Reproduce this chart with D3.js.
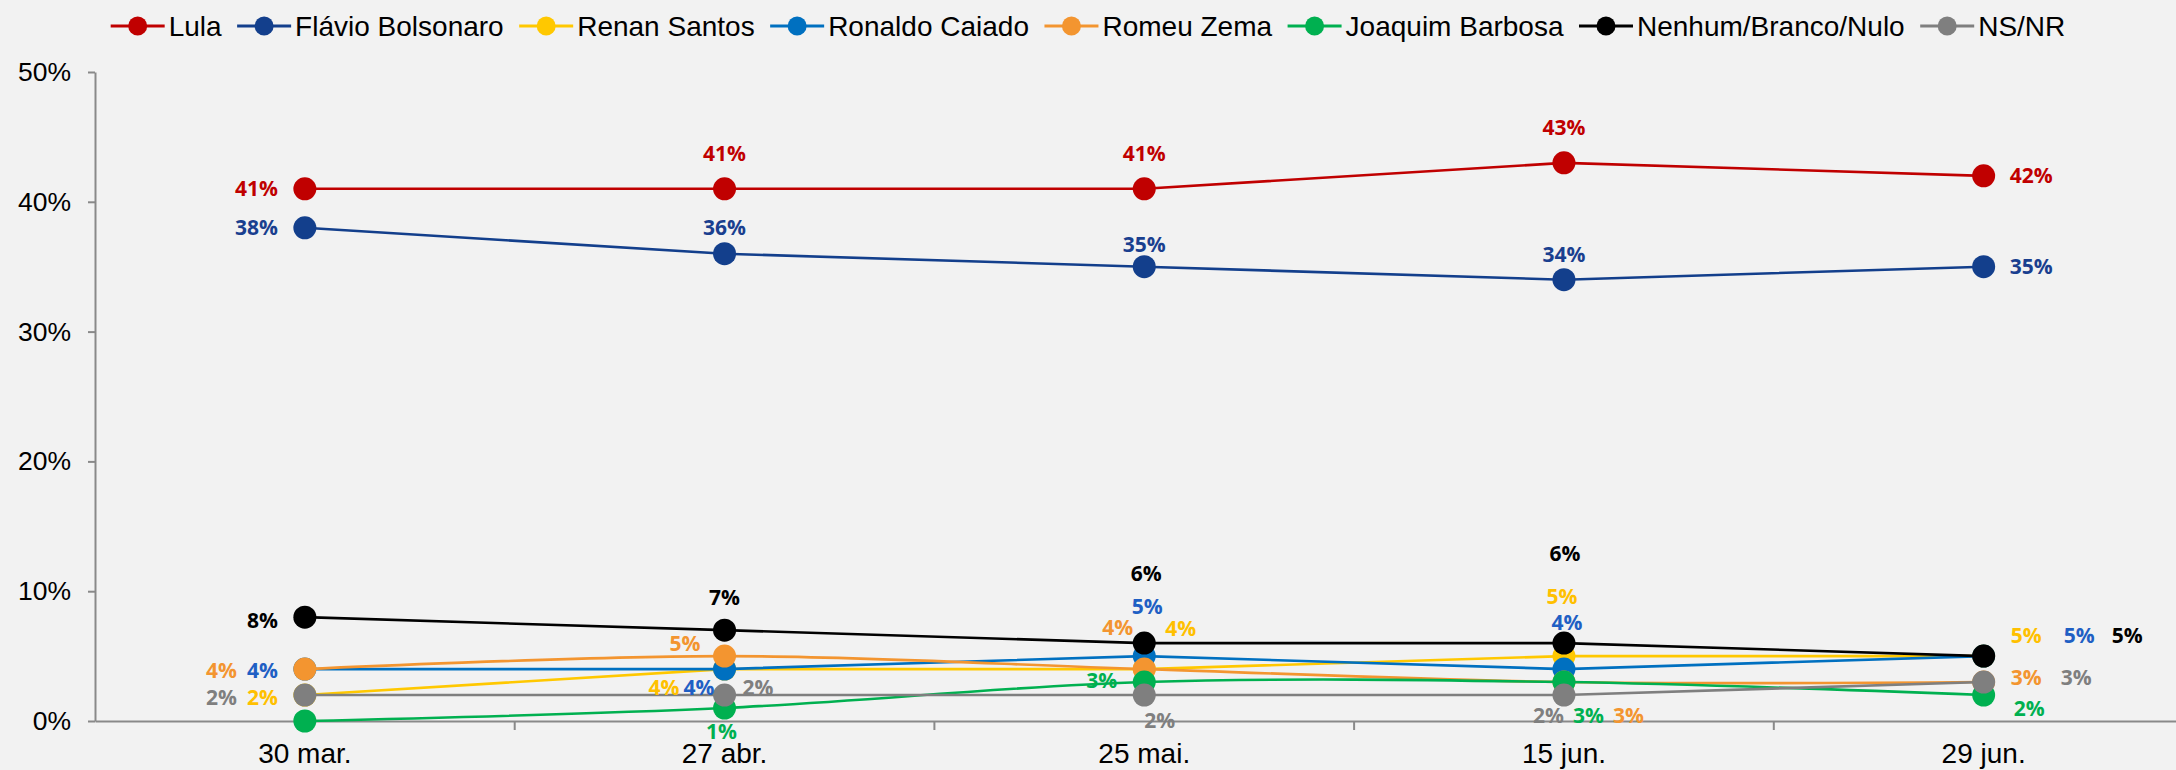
<!DOCTYPE html>
<html>
<head>
<meta charset="utf-8">
<script src="https://cdn.jsdelivr.net/npm/d3@7"></script>
<style>
  html, body { margin: 0; padding: 0; background: #f2f2f2; }
  svg { display: block; }
</style>
</head>
<body>
<div id="chart"></div>
<script>
// Data
const categories = ["30 mar.", "27 abr.", "25 mai.", "15 jun.", "29 jun."];
const seriesNames = ["Lula", "Flávio Bolsonaro", "Renan Santos", "Ronaldo Caiado",
  "Romeu Zema", "Joaquim Barbosa", "Nenhum/Branco/Nulo", "NS/NR"];
const lula = [41, 41, 41, 43, 42];
const flavio = [38, 36, 35, 34, 35];
const renan = [2, 4, 4, 5, 5];
const caiado = [4, 4, 5, 4, 5];
const zema = [4, 5, 4, 3, 3];
const barbosa = [0, 1, 3, 3, 2];
const nenhum = [8, 7, 6, 6, 5];
const nsnr = [2, 2, 2, 2, 3];
const yTicks = [0, 10, 20, 30, 40, 50];

const values = [lula, flavio, renan, caiado, zema, barbosa, nenhum, nsnr];
const colors = ["#c00000", "#133f8c", "#ffc800", "#0070c0", "#f39530", "#00b050", "#000000", "#7f7f7f"];
const labelColors = ["#c00000", "#1a3f8f", "#ffc000", "#1f5fc4", "#f39530", "#00b050", "#000000", "#7f7f7f"];
const smooth = [false, false, false, false, true, true, false, false];

// label placement per point: [anchor, dx, dy] relative to the marker
const labelLayout = [
  [["end", -27, 0], ["middle", 0, -35], ["middle", 0, -35], ["middle", 0, -35], ["start", 26, 0]],
  [["end", -27, 0], ["middle", 0, -26], ["middle", 0, -22], ["middle", 0, -25], ["start", 26, 0]],
  [["end", -27, 2], ["end", -45, 18], ["start", 21, -41], ["middle", -2, -60], ["start", 27, -21]],
  [["end", -27, 1], ["end", -10, 18], ["middle", 3, -50], ["middle", 3, -47], ["start", 80, -21]],
  [["end", -68, 1], ["end", -24, -13], ["end", -11, -42], ["start", 49, 33], ["start", 27, -5]],
  [null, ["middle", -3, 23], ["end", -27, -2], ["start", 9, 33], ["start", 30, 13]],
  [["end", -27, 3], ["middle", 0, -33], ["middle", 2, -70], ["middle", 1, -90], ["start", 128, -21]],
  [["end", -68, 2], ["start", 18, -8], ["start", 0, 25], ["end", 0, 20], ["start", 77, -5]]
];

const width = 2176;
const height = 770;
const marginLeft = 95;
const plotTop = 72;
const plotBottom = 721;

const svg = d3.select("#chart")
  .append("svg")
    .attr("width", width)
    .attr("height", height)
    .attr("viewBox", [0, 0, width, height])
    .style("font-family", "'Liberation Sans', Arial, sans-serif");

svg.append("rect").attr("width", width).attr("height", height).attr("fill", "#f2f2f2");

const x = d3.scaleBand()
  .domain(categories)
  .range([marginLeft, marginLeft + 5 * 419.7])
  .padding(0);

const y = d3.scaleLinear()
  .domain([0, 50])
  .range([plotBottom, plotTop]);

const cx = d => x(d) + x.bandwidth() / 2;

// Y axis
const yAxis = svg.append("g")
  .attr("transform", `translate(${marginLeft},0)`)
  .call(d3.axisLeft(y).tickValues(yTicks).tickSize(7).tickSizeOuter(0).tickPadding(17)
    .tickFormat(d => d + "%"));
yAxis.selectAll("path, line").attr("stroke", "#898989").attr("stroke-width", 2);
yAxis.selectAll("text").attr("font-size", 26.5).attr("fill", "#000")
  .style("font-family", "'Liberation Sans', Arial, sans-serif");

// X axis
const xAxis = svg.append("g")
  .attr("transform", `translate(0,${plotBottom})`)
  .call(d3.axisBottom(x).tickSize(0).tickSizeOuter(0).tickPadding(22));
xAxis.select(".domain").attr("stroke", "#898989").attr("stroke-width", 2);
xAxis.selectAll("text").attr("font-size", 28).attr("fill", "#000")
  .style("font-family", "'Liberation Sans', Arial, sans-serif");
xAxis.selectAll(".bound")
  .data(categories.slice(1))
  .join("line")
    .attr("class", "bound")
    .attr("x1", d => x(d)).attr("x2", d => x(d))
    .attr("y1", 0).attr("y2", 9)
    .attr("stroke", "#898989").attr("stroke-width", 2);

// Series
values.forEach((vals, s) => {
  const line = d3.line()
    .x((d, i) => cx(categories[i]))
    .y(d => y(d))
    .curve(smooth[s] ? d3.curveCatmullRom.alpha(0.5) : d3.curveLinear);
  const g = svg.append("g");
  g.append("path")
    .attr("d", line(vals))
    .attr("fill", "none")
    .attr("stroke", colors[s])
    .attr("stroke-width", 2.6);
  g.selectAll("circle")
    .data(vals)
    .join("circle")
      .attr("cx", (d, i) => cx(categories[i]))
      .attr("cy", d => y(d))
      .attr("r", 11.5)
      .attr("fill", colors[s]);
});

// Data labels
values.forEach((vals, s) => {
  svg.append("g")
    .selectAll("text")
    .data(vals.map((v, i) => ({ v, i, pos: labelLayout[s][i] })).filter(d => d.pos))
    .join("text")
      .attr("x", d => cx(categories[d.i]) + d.pos[1])
      .attr("y", d => y(d.v) + d.pos[2])
      .attr("dy", "0.36em")
      .attr("text-anchor", d => d.pos[0])
      .attr("fill", labelColors[s])
      .attr("font-size", 21)
      .attr("font-weight", 700)
      .style("font-family", "'Open Sans', sans-serif")
      .text(d => d.v + "%");
});

// Legend, centered
const legend = svg.append("g").attr("transform", "translate(0,26)");
const items = legend.selectAll("g")
  .data(seriesNames)
  .join("g");
items.append("line")
  .attr("x1", 0).attr("x2", 54)
  .attr("stroke", (d, i) => colors[i]).attr("stroke-width", 3);
items.append("circle")
  .attr("cx", 27).attr("r", 9.5)
  .attr("fill", (d, i) => colors[i]);
items.append("text")
  .attr("x", 58)
  .attr("dy", "0.35em")
  .attr("font-size", 28)
  .attr("fill", "#000")
  .text(d => d);

const gap = 15.5;
let pos = 0;
const offsets = [];
items.each(function() {
  offsets.push(pos);
  const w = d3.select(this).select("text").node().getComputedTextLength();
  pos += 58 + w + gap;
});
const total = pos - gap;
const start = (width - total) / 2;
items.attr("transform", (d, i) => `translate(${start + offsets[i]},0)`);
</script>
</body>
</html>
